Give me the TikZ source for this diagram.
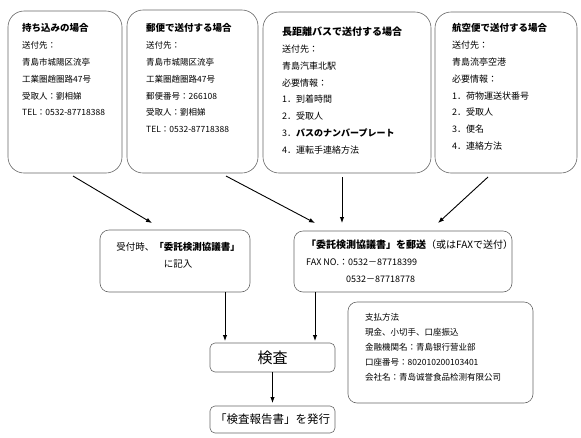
\documentclass[tikz,border=0pt]{standalone}
\usepackage{fontspec}
\newfontfamily\jp{Noto Sans CJK JP}
\usetikzlibrary{arrows.meta,calc}
\newcommand{\fs}[1]{\fontsize{#1}{16.8}\selectfont}

\begin{document}
\begin{tikzpicture}[x=1pt,y=-1pt,font=\jp,
  >={Latex[length=6pt,width=4.5pt]},
  topbox/.style={draw=black!60,semithick,rounded corners=16pt,outer sep=0pt,inner sep=0pt},
  midbox/.style={draw=black!60,semithick,rounded corners=9pt,outer sep=0pt,inner sep=0pt},
  smallbox/.style={draw=black!60,semithick,rounded corners=5pt,outer sep=0pt,inner sep=0pt},
  txt/.style={anchor=north west,align=left,inner sep=0pt},
  flow/.style={->,line width=0.9pt}]
  \useasboundingbox (0,0) rectangle (581,437);

  % Four ways of sending the sample
  \node[topbox,minimum width=114pt,minimum height=162pt] (carry) at (65,92) {};
  \node[topbox,minimum width=131pt,minimum height=163pt] (post) at (192.5,91.5) {};
  \node[topbox,minimum width=168pt,minimum height=161pt] (bus) at (347,92.5) {};
  \node[topbox,minimum width=142pt,minimum height=161pt] (air) at (506,92.5) {};

  \node[txt,font=\jp\fs{8.5}] (carrytxt) at (22,23.5)
    {{\bfseries\fs{9.5}持ち込みの場合}\\
     送付先：\\ 青島市城陽区流亭\\ 工業圏趙圏路47号\\ 受取人：劉相娣\\ TEL：0532-87718388};
  \node[txt,font=\jp\fs{8.5}] (posttxt) at (146,23.5)
    {{\bfseries\fs{9.5}郵便で送付する場合}\\
     送付先：\\ 青島市城陽区流亭\\ 工業圏趙圏路47号\\ 郵便番号：266108\\ 受取人：劉相娣\\ TEL：0532-87718388};
  \node[txt,font=\jp\fs{9}] (bustxt) at (282,27)
    {{\bfseries\fs{10}長距離バスで送付する場合}\\
     送付先：\\ 青島汽車北駅\\ 必要情報：\\ 1．到着時間\\ 2．受取人\\
     3．{\bfseries バスのナンバープレート}\\ 4．運転手連絡方法};
  \node[txt,font=\jp\fs{9}] (airtxt) at (452,23.5)
    {{\bfseries\fs{9.5}航空便で送付する場合}\\
     送付先：\\ 青島流亭空港\\ 必要情報：\\ 1．荷物運送状番号\\ 2．受取人\\ 3．便名\\ 4．連絡方法};

  % Agreement form
  \node[midbox,minimum width=150pt,minimum height=62pt] (accept) at (175,261) {};
  \node[align=center,inner sep=0pt,font=\jp\fontsize{9.5}{17}\selectfont] (accepttxt) at (178,255.5)
    {受付時、{\bfseries「委託検測協議書」}\\ に記入};
  \node[midbox,minimum width=218pt,minimum height=61pt] (send) at (403,261.5) {};
  \node[txt,font=\jp\fontsize{9}{17}\selectfont] (sendtxt) at (306,240)
    {{\bfseries\fontsize{10}{17}\selectfont「委託検測協議書」を郵送}{\fontsize{10}{17}\selectfont（或はFAXで送付）}\\
     FAX NO.：0532－87718399\\ \hspace{40pt}0532－87718778};

  % Payment
  \node[midbox,minimum width=185pt,minimum height=101pt] (pay) at (440.5,352.5) {};
  \node[txt,font=\jp\fontsize{8.5}{15}\selectfont] (paytxt) at (365,313.5)
    {支払方法\\ 現金、小切手、口座振込\\ 金融機関名：青島银行营业部\\
     口座番号：802010200103401\\ 会社名：青岛诚誉食品检测有限公司};

  % Inspection and report
  \node[smallbox,minimum width=125pt,minimum height=29pt,font=\jp\fontsize{15}{18}\selectfont] (check) at (272.5,357.5) {検査};
  \node[smallbox,minimum width=125pt,minimum height=27pt,font=\jp\fontsize{11.5}{14}\selectfont] (report) at (272.5,419.5) {「検査報告書」を発行};

  % Connectors
  \draw[flow] ($(carry.south)+(8,3)$) -- ($(accept.north)+(-23,-7)$);
  \draw[flow] ($(post.south)+(33.5,3)$) -- ($(send.north)+(-88,-8)$);
  \draw[flow] ($(bus.south)+(-5,4)$) -- ($(send.north)+(-61,-8)$);
  \draw[flow] ($(air.south)+(-18,4)$) -- ($(send.north)+(35,-8)$);
  \draw[flow] ($(accept.south)+(50,0)$) -- ($(check.north)+(-47.5,-2)$);
  \draw[flow] ($(send.south)+(-88,0)$) -- ($(check.north)+(42.5,-2)$);
  \draw[flow] (check.south) -- ($(report.north)+(0,-3)$);
\end{tikzpicture}
\end{document}
